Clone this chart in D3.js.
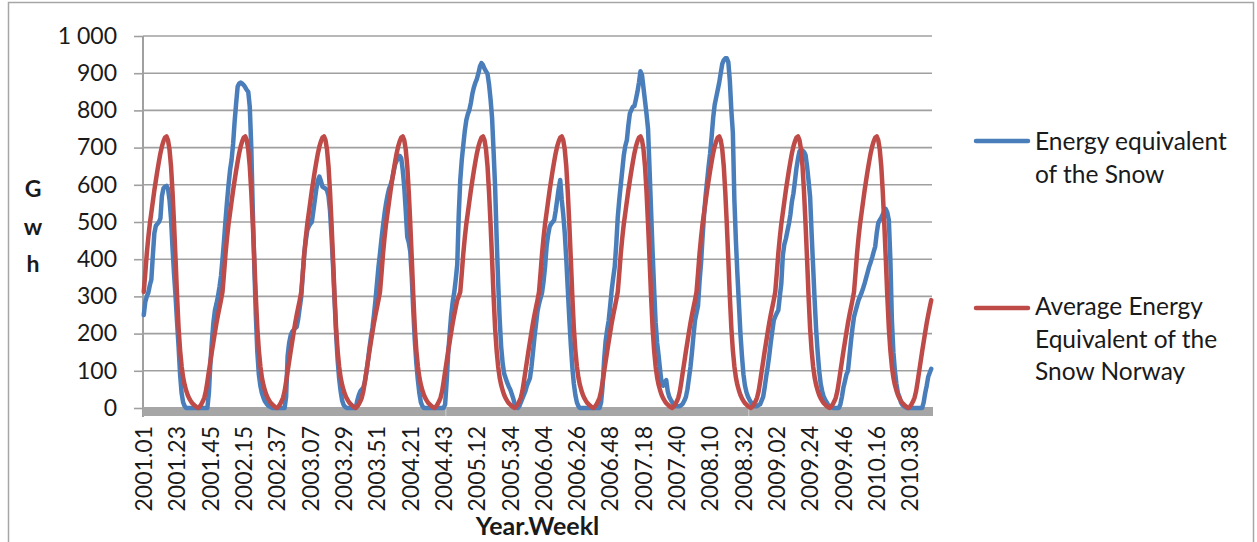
<!DOCTYPE html>
<html><head><meta charset="utf-8">
<script src="https://cdn.jsdelivr.net/npm/d3@7"></script>
<style>
body{margin:0;background:#fff;}
svg text{font-family:Lato,"Open Sans",sans-serif;fill:#1a1a1a;}
</style></head><body>
<svg id="chart" width="1257" height="542"></svg>
<script>
// ---------- DATA ----------
const years = [2001,2002,2003,2004,2005,2006,2007,2008,2009,2010];
const weeksPerYear = [52,52,52,53,52,52,52,52,52,52];
const xTickLabels = ["2001.01","2001.23","2001.45","2002.15","2002.37","2003.07","2003.29","2003.51",
  "2004.21","2004.43","2005.12","2005.34","2006.04","2006.26","2006.48","2007.18","2007.40",
  "2008.10","2008.32","2009.02","2009.24","2009.46","2010.16","2010.38"];
const yTicks = [0,100,200,300,400,500,600,700,800,900,1000];
const seriesNames = ["Energy equivalent of the Snow","Average Energy Equivalent of the Snow Norway"];

// Average energy equivalent of the snow, by week of year (1..53)
const avgWeekly = [312,362,415,458,495,525,555,585,612,638,
  662,685,703,717,727,730,720,695,650,580,
  495,400,300,215,155,112,82,62,47,35,
  26,19,13,9,5,2,0,4,10,18,
  28,45,70,98,125,152,178,203,228,250,
  270,290,300];

// Energy equivalent of the snow, weekly, per year
const snow2001 = [250,285,300,310,330,345,410,470,490,495, 500,510,570,590,595,597,590,560,510,430,
  360,300,230,165,90,40,15,5,0,0, 0,0,0,0,0,0,0,0,0,0, 0,0,0,40,120,180,230,263,280,300,325,355];
const snow2002 = [400,450,505,555,600,640,667,710,770,819, 864,872,875,872,868,862,855,850,810,700,
  530,380,250,150,90,60,40,28,18,12, 7,4,2,0,0,0,0,0,0,0, 0,0,30,140,175,195,205,210,215,218,240,270];
const snow2003 = [299,360,416,450,478,488,495,500,530,560, 590,612,622,610,595,592,590,585,570,530,
  460,380,290,200,130,80,45,20,8,3, 0,0,0,0,0,0,0,20,35,45, 50,55,70,95,125,160,190,215,250,290,335,380];
const snow2004 = [416,455,490,523,550,572,590,600,615,635, 655,665,672,678,672,640,595,530,460,445,
  420,350,260,180,120,75,40,15,5,0, 0,0,0,0,0,0,0,0,0,0, 0,0,0,10,70,145,200,250,285,310,345,385,520];
const snow2005 = [613,667,707,745,774,790,801,820,845,862, 875,885,900,918,927,922,912,905,898,870,
  830,780,690,595,460,340,240,165,120,92, 80,68,58,50,38,25,10,2,0,5, 15,25,35,45,60,70,80,110,150,190,225,260];
const snow2006 = [280,295,310,340,380,434,465,487,495,500, 505,530,560,590,613,560,520,470,400,320,
  240,170,110,65,35,15,5,0,0,0, 0,0,0,0,0,0,0,0,0,0, 0,15,60,130,180,210,235,275,317,350,380,440];
const snow2007 = [513,560,600,640,680,705,720,760,792,801, 810,812,830,850,875,905,895,860,825,790,
  750,640,530,420,320,230,175,140,100,66, 60,70,75,45,30,22,15,8,5,5, 5,5,8,12,20,30,50,80,110,150,195,235];
const snow2008 = [255,275,340,390,460,520,570,610,650,685, 730,780,815,835,855,875,900,925,935,940,
  940,930,880,800,740,560,450,360,280,200, 140,90,60,42,30,22,15,8,5,5, 5,8,10,20,30,55,84,110,140,175,205,235];
const snow2009 = [246,255,263,300,335,410,440,455,475,495, 520,555,577,610,645,670,690,695,692,688,
  680,650,610,568,470,380,290,210,150,100, 65,45,30,22,15,8,5,3,0,0, 0,0,0,10,30,55,72,90,100,140,180,215];
const snow2010 = [245,260,275,290,300,310,322,335,350,365, 380,392,405,420,434,470,497,505,512,520,
  530,535,525,505,400,237,150,100,65,40, 30,15,8,5,2,0,0,0,0,0, 0,0,0,0,0,0,15,40,60,84,95,105];
const snowByYear = [snow2001,snow2002,snow2003,snow2004,snow2005,snow2006,snow2007,snow2008,snow2009,snow2010];

// ---------- BUILD TABLE ----------
const categories = [], snow = [], avg = [];
years.forEach((yr, i) => {
  for (let w = 1; w <= weeksPerYear[i]; w++) {
    categories.push(yr + "." + String(w).padStart(2, "0"));
    snow.push(snowByYear[i][w - 1]);
    avg.push(avgWeekly[w - 1]);
  }
});

// ---------- DRAW ----------
const svg = d3.select("#chart");
const L = 143, R = 932, T = 36, B = 408;
const x = d3.scaleBand().domain(categories).range([L, R]).padding(0);
const y = d3.scaleLinear().domain([0, 1000]).range([B, T]);
const cx = c => x(c) + x.bandwidth() / 2;
const fmt = d3.formatLocale({decimal: ".", thousands: " ", grouping: [3], currency: ["", ""]}).format(",");

// chart border
svg.append("rect").attr("x", 8.5).attr("y", 2.5).attr("width", 1245).attr("height", 560)
  .attr("fill", "none").attr("stroke", "#a6a6a6").attr("stroke-width", 1.5);

// gridlines
svg.append("g").selectAll("line").data(yTicks.filter(d => d > 0)).join("line")
  .attr("x1", L).attr("x2", R).attr("y1", d => y(d)).attr("y2", d => y(d))
  .attr("stroke", "#a0a0a0").attr("stroke-width", 1.6);

// y axis
const gy = svg.append("g").attr("transform", `translate(${L},0)`)
  .call(d3.axisLeft(y).tickValues(yTicks).tickFormat(fmt).tickSize(9).tickSizeOuter(0).tickPadding(17));
gy.select(".domain").remove();
gy.selectAll(".tick line").attr("stroke", "#a0a0a0").attr("stroke-width", 1.6);
gy.selectAll(".tick text").attr("font-size", 23).attr("font-family", "Lato").attr("fill", "#1a1a1a");
svg.append("line").attr("x1", L).attr("x2", L).attr("y1", T).attr("y2", B + 9)
  .attr("stroke", "#a0a0a0").attr("stroke-width", 2);

// floor band / x axis line
svg.append("rect").attr("x", L).attr("y", B - 1).attr("width", R - L + 1).attr("height", 9).attr("fill", "#a6a6a6");
svg.append("g").selectAll("line").data([categories[200], categories[400]]).join("line")
  .attr("x1", d => x(d)).attr("x2", d => x(d)).attr("y1", B - 1).attr("y2", B + 8)
  .attr("stroke", "#cfcfcf").attr("stroke-width", 1);

// x axis labels
const tickCats = categories.filter(c => xTickLabels.includes(c));
const gx = svg.append("g").attr("transform", `translate(0,${B + 8})`)
  .call(d3.axisBottom(x).tickValues(tickCats).tickSize(0).tickSizeOuter(0));
gx.select(".domain").remove();
gx.selectAll(".tick text").attr("font-size", 23).attr("font-family", "Lato").attr("fill", "#1a1a1a")
  .attr("transform", "rotate(-90)").attr("text-anchor", "end")
  .attr("x", -10).attr("y", 0).attr("dy", "0.36em");

// series lines
const line = d3.line().x((d, i) => cx(categories[i])).y(d => y(d)).curve(d3.curveLinear);
svg.append("path").datum(snow).attr("d", line).attr("fill", "none")
  .attr("stroke", "#4a7ebb").attr("stroke-width", 4.5).attr("stroke-linejoin", "round").attr("stroke-linecap", "round");
svg.append("path").datum(avg).attr("d", line).attr("fill", "none")
  .attr("stroke", "#be4b48").attr("stroke-width", 4.5).attr("stroke-linejoin", "round").attr("stroke-linecap", "round");

// axis titles
svg.append("text").attr("x", (L + R) / 2).attr("y", 535).attr("text-anchor", "middle")
  .attr("font-size", 25).attr("font-weight", "bold").text("Year.Weekl");
const yTitle = ["G", "w", "h"];
svg.append("g").selectAll("text").data(yTitle).join("text")
  .attr("x", 33).attr("y", (d, i) => 197 + i * 37.5).attr("text-anchor", "middle")
  .attr("font-size", 23).attr("font-weight", "bold").text(d => d);

// legend
const legend = [
  {color: "#4a7ebb", y: 141, lines: ["Energy equivalent", "of the Snow"]},
  {color: "#be4b48", y: 308, lines: ["Average Energy", "Equivalent of the", "Snow Norway"]}
];
legend.forEach((lg, k) => {
  svg.append("line").attr("x1", 976).attr("x2", 1028).attr("y1", lg.y).attr("y2", lg.y)
    .attr("stroke", lg.color).attr("stroke-width", 4.5).attr("stroke-linecap", "round");
  const t = svg.append("text").attr("x", 1035).attr("font-size", 24.5);
  const top = k === 0 ? 150 : 315;
  lg.lines.forEach((s, j) => t.append("tspan").attr("x", 1035).attr("y", top + j * 32.5).text(s));
});
</script>
</body></html>
